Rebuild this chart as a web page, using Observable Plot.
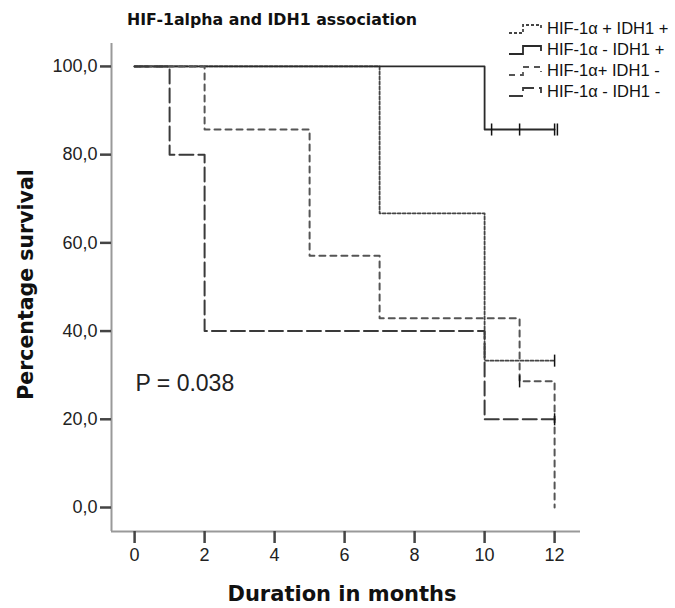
<!DOCTYPE html>
<html>
<head>
<meta charset="utf-8">
<script src="https://cdn.jsdelivr.net/npm/d3@7"></script>
<script src="https://cdn.jsdelivr.net/npm/@observablehq/plot@0.6"></script>
<style>
  body { margin: 0; background: #fff; font-family: Arial, "Liberation Sans", sans-serif; }
  #wrap { position: relative; width: 675px; height: 608px; }
  #title { position: absolute; left: 127px; top: 12px; font-family: "DejaVu Sans", sans-serif; font-size: 15.8px; line-height: 16px; font-weight: bold; color: #111; white-space: nowrap; }
  #legend { position: absolute; left: 508px; top: 18px; font-size: 16.5px; color: #111; white-space: nowrap; }
  #legend .row { display: flex; align-items: center; height: 21px; }
  #legend svg { margin-right: 4px; }
</style>
</head>
<body>
<div id="wrap">
  <div id="title">HIF-1alpha and IDH1 association</div>
  <div id="legend"></div>
</div>
<script>
// ---- data ----
const seriesNames = ["HIF-1α + IDH1 +", "HIF-1α - IDH1 +", "HIF-1α+ IDH1 -", "HIF-1α - IDH1 -"];
const s1Time = [0, 7, 10, 12];
const s1Surv = [100, 66.7, 33.3, 33.3];
const s1CensorTime = [12];
const s1CensorSurv = [33.3];

const s2Time = [0, 10, 12];
const s2Surv = [100, 85.7, 85.7];
const s2CensorTime = [10.2, 11, 12, 12.08];
const s2CensorSurv = [85.7, 85.7, 85.7, 85.7];

const s3Time = [0, 2, 5, 7, 11, 12, 12];
const s3Surv = [100, 85.7, 57.1, 42.9, 28.6, 28.6, 0];
const s3CensorTime = [11];
const s3CensorSurv = [28.6];

const s4Time = [0, 1, 2, 10, 12];
const s4Surv = [100, 80, 40, 20, 20];
const s4CensorTime = [12];
const s4CensorSurv = [20];

const xTicks = [0, 2, 4, 6, 8, 10, 12];
const yTicks = [0, 20, 40, 60, 80, 100];
const pValueText = "P = 0.038";

// ---- styles ----
const styles = [
  {stroke: "#444", dash: "3,2", width: 1.8},
  {stroke: "#2a2a2a", dash: null, width: 1.8},
  {stroke: "#555", dash: "6,5", width: 2},
  {stroke: "#3a3a3a", dash: "14,5", width: 2}
];

const raw = [
  [s1Time, s1Surv, s1CensorTime, s1CensorSurv],
  [s2Time, s2Surv, s2CensorTime, s2CensorSurv],
  [s3Time, s3Surv, s3CensorTime, s3CensorSurv],
  [s4Time, s4Surv, s4CensorTime, s4CensorSurv]
];

const censorSymbol = {
  draw(ctx, size) {
    const h = Math.sqrt(size);
    ctx.moveTo(0, -h); ctx.lineTo(0, h);
  }
};

const marks = [];
raw.forEach(([t, s, ct, cs], i) => {
  const pts = t.map((x, j) => ({x, y: s[j]}));
  const cens = ct.map((x, j) => ({x, y: cs[j]}));
  marks.push(Plot.line(pts, {x: "x", y: "y", curve: "step-after",
    stroke: styles[i].stroke, strokeWidth: styles[i].width,
    strokeDasharray: styles[i].dash || undefined}));
  marks.push(Plot.dot(cens, {x: "x", y: "y", symbol: censorSymbol, r: 3.4,
    stroke: "#111", strokeWidth: 1.5, fill: "none"}));
});

const xDom = [-0.66, 12.74];
const yDom = [-5.44, 105.2];

const chart = Plot.plot({
  width: 675,
  height: 608,
  marginLeft: 111,
  marginRight: 95,
  marginTop: 43,
  marginBottom: 77,
  style: {fontFamily: "Arial, 'Liberation Sans', sans-serif", background: "#fff"},
  x: {domain: xDom},
  y: {domain: yDom},
  marks: [
    Plot.ruleX([xDom[0]], {stroke: "#999", strokeWidth: 2}),
    Plot.ruleY([yDom[0]], {stroke: "#999", strokeWidth: 2}),
    Plot.axisX(xTicks, {tickSize: 12, tickPadding: 5, fontSize: 18, stroke: "#444", strokeWidth: 2.5, fill: "#222", label: null, tickFormat: d => String(d)}),
    Plot.axisY(yTicks, {tickSize: 11, tickPadding: 3, fontSize: 18, stroke: "#444", strokeWidth: 2.5, fill: "#222", label: null, tickFormat: d => d.toFixed(1).replace(".", ",")}),
    ...marks,
    Plot.text([pValueText], {frameAnchor: "bottom-left", dx: 24, dy: -148, lineAnchor: "middle", fontSize: 23, fill: "#222", textAnchor: "start"}),
    Plot.text(["Percentage survival"], {frameAnchor: "left", dx: -85, dy: -3, rotate: -90, textAnchor: "middle", lineAnchor: "middle", fontSize: 20.5, fontWeight: "bold", fontFamily: "'DejaVu Sans', sans-serif", fill: "#111"}),
    Plot.text(["Duration in months"], {frameAnchor: "bottom", dx: -4, dy: 63, lineAnchor: "middle", fontSize: 21, fontWeight: "bold", fontFamily: "'DejaVu Sans', sans-serif", fill: "#111"})
  ]
});
document.getElementById("wrap").prepend(chart);
chart.style.position = "absolute";
chart.style.left = "0";
chart.style.top = "0";

const legend = document.getElementById("legend");
seriesNames.forEach((name, i) => {
  const row = document.createElement("div");
  row.className = "row";
  const st = styles[i];
  row.innerHTML = `<svg width="35" height="14"><path d="M1,11 H15 V3 H33 V8" fill="none" stroke="${st.stroke}" stroke-width="1.8" ${st.dash ? `stroke-dasharray="${st.dash}"` : ""}/></svg><span>${name}</span>`;
  legend.appendChild(row);
});
</script>
</body>
</html>
